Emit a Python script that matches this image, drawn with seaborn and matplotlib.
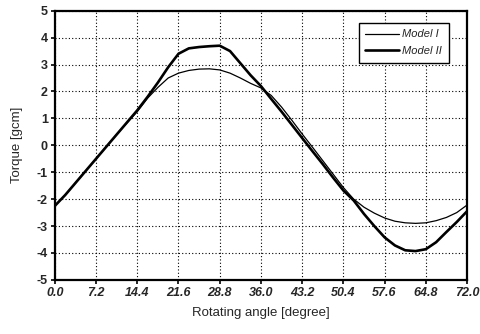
import numpy as np
import pandas as pd
import matplotlib
matplotlib.use("Agg")
import matplotlib.pyplot as plt
from matplotlib.lines import Line2D
import seaborn as sns

# Угол поворота (градусы) и момент (gcm)
angle = [0.0, 1.8, 3.6, 5.4, 7.2, 9.0, 10.8, 12.6, 14.4, 16.2, 18.0,
         19.8, 21.6, 23.4, 25.2, 27.0, 28.8, 30.6, 32.4, 34.2, 36.0,
         37.8, 39.6, 41.4, 43.2, 45.0, 46.8, 48.6, 50.4, 52.2, 54.0,
         55.8, 57.6, 59.4, 61.2, 63.0, 64.8, 66.6, 68.4, 70.2, 72.0]
model_1 = [-2.25, -1.85, -1.4, -0.95, -0.5, -0.05, 0.4, 0.83, 1.25, 1.75, 2.15,
           2.5, 2.68, 2.78, 2.83, 2.84, 2.8, 2.68, 2.5, 2.3, 2.13,
           1.85, 1.42, 0.93, 0.42, -0.07, -0.57, -1.07, -1.57, -2.0, -2.3,
           -2.52, -2.7, -2.82, -2.88, -2.9, -2.88, -2.8, -2.68, -2.5, -2.22]
model_2 = [-2.25, -1.85, -1.4, -0.95, -0.5, -0.05, 0.4, 0.85, 1.3, 1.8, 2.33,
           2.9, 3.4, 3.6, 3.65, 3.68, 3.7, 3.5, 3.05, 2.6, 2.2,
           1.72, 1.25, 0.76, 0.27, -0.22, -0.7, -1.2, -1.68, -2.05, -2.55,
           -3.0, -3.42, -3.72, -3.9, -3.93, -3.86, -3.6, -3.22, -2.85, -2.45]
x_ticks = [0.0, 7.2, 14.4, 21.6, 28.8, 36.0, 43.2, 50.4, 57.6, 64.8, 72.0]
y_ticks = [-5, -4, -3, -2, -1, 0, 1, 2, 3, 4, 5]

df = pd.DataFrame({
    'angle': angle * 2,
    'torque': model_1 + model_2,
    'model': ['Model I'] * len(angle) + ['Model II'] * len(angle),
})

sns.set_style("ticks")
plt.rcParams['font.family'] = ['Liberation Sans', 'DejaVu Sans']

fig = plt.figure(figsize=(4.81, 3.34), dpi=100)
ax = fig.add_axes([0.114, 0.162, 0.857, 0.806])

sns.lineplot(data=df, x='angle', y='torque', hue='model', size='model',
             sizes={'Model I': 0.9, 'Model II': 1.9},
             palette={'Model I': 'black', 'Model II': 'black'},
             ax=ax, legend=False)

ax.set_xlim(0, 72)
ax.set_ylim(-5, 5)
ax.set_xticks(x_ticks)
ax.set_yticks(y_ticks)
ax.set_xticklabels([f'{t:.1f}' for t in x_ticks], fontsize=9,
                   fontweight='bold', fontstyle='italic')
ax.set_yticklabels([str(t) for t in y_ticks], fontsize=9, fontweight='bold')
ax.tick_params(direction='out', length=3, width=1.2, color='black', pad=2)
ax.grid(True, linestyle=(0, (1, 2)), color='black', linewidth=0.8)
for s in ax.spines.values():
    s.set_visible(True)
    s.set_linewidth(1.6)
    s.set_color('black')

ax.set_xlabel('Rotating angle [degree]', fontsize=9.5, labelpad=6)
ax.set_ylabel('Torque [gcm]', fontsize=9.5, labelpad=10)

handles = [Line2D([], [], color='black', lw=0.9),
           Line2D([], [], color='black', lw=1.9)]
leg = ax.legend(handles, ['Model I', 'Model II'], loc='upper right',
                bbox_to_anchor=(0.955, 0.955),
                prop={'style': 'italic', 'size': 8},
                handlelength=3.0, handletextpad=0.3, borderpad=0.6,
                labelspacing=0.6, fancybox=False, framealpha=1,
                borderaxespad=0)
leg.get_frame().set_edgecolor('black')
leg.get_frame().set_linewidth(1.0)

fig.savefig('out.png', dpi=100)
